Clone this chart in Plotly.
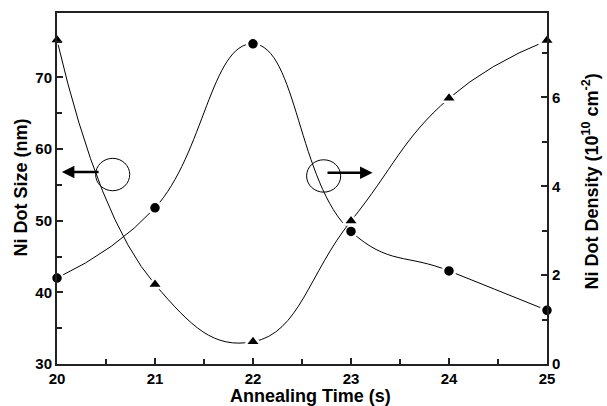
import plotly.graph_objects as go

time_s = [20, 21, 22, 23, 24, 25]
dot_size_nm = [42.0, 51.8, 74.7, 48.5, 43.0, 37.5]
dot_density = [7.29, 1.79, 0.50, 3.22, 5.98, 7.28]

x_ticks = [20, 21, 22, 23, 24, 25]
size_ticks = [30, 40, 50, 60, 70]
density_ticks = [0, 2, 4, 6]

FONT = "Liberation Sans, Arial, sans-serif"
AX = "#222"

fig = go.Figure()
fig.add_trace(go.Scatter(
    x=time_s, y=dot_size_nm, mode="lines+markers",
    line=dict(color="black", width=1, shape="spline", smoothing=1.3),
    marker=dict(symbol="circle", size=12, color="black", line=dict(color="white", width=2.5)),
    yaxis="y", showlegend=False, cliponaxis=False))
fig.add_trace(go.Scatter(
    x=time_s, y=dot_density, mode="lines+markers",
    line=dict(color="black", width=1, shape="spline", smoothing=1.3),
    marker=dict(symbol="triangle-up", size=14, color="black", line=dict(color="white", width=2.5)),
    yaxis="y2", showlegend=False, cliponaxis=False))

# circles and arrows indicating which axis each curve belongs to
fig.add_shape(type="circle", xref="x", yref="y",
              x0=20.568 - 0.174, x1=20.568 + 0.174, y0=56.45 - 2.26, y1=56.45 + 2.26,
              line=dict(color="black", width=1))
fig.add_shape(type="circle", xref="x", yref="y",
              x0=22.721 - 0.174, x1=22.721 + 0.174, y0=56.25 - 2.26, y1=56.25 + 2.26,
              line=dict(color="black", width=1))
fig.add_annotation(x=20.05, y=56.8, ax=20.44, ay=56.8, xref="x", yref="y", axref="x", ayref="y",
                   showarrow=True, arrowhead=2, arrowsize=1, arrowwidth=2.5, arrowcolor="black", text="")
fig.add_annotation(x=23.22, y=56.7, ax=22.745, ay=56.7, xref="x", yref="y", axref="x", ayref="y",
                   showarrow=True, arrowhead=2, arrowsize=1, arrowwidth=2.5, arrowcolor="black", text="")

tickfont = dict(family=FONT, size=15, color="black")
fig.update_layout(
    width=607, height=406,
    margin=dict(l=57, r=60, t=11, b=42),
    paper_bgcolor="white", plot_bgcolor="white",
    font=dict(family=FONT, color="black"),
    xaxis=dict(range=[20, 25], tickvals=x_ticks, ticktext=["<b>%d</b>" % v for v in x_ticks],
               ticks="inside", ticklen=6, tickwidth=1.5, tickcolor=AX,
               minor=dict(ticks="inside", dtick=0.5, ticklen=5, tickwidth=1.5, tickcolor=AX),
               showline=True, linecolor=AX, linewidth=2, mirror=True,
               showgrid=False, zeroline=False, tickfont=tickfont, ticklabelstandoff=0),
    yaxis=dict(range=[30, 79], tickvals=size_ticks, ticktext=["<b>%d</b>" % v for v in size_ticks],
               ticks="inside", ticklen=6, tickwidth=1.5, tickcolor=AX,
               minor=dict(ticks="inside", dtick=5, ticklen=5, tickwidth=1.5, tickcolor=AX),
               showline=True, linecolor=AX, linewidth=2,
               showgrid=False, zeroline=False, tickfont=tickfont),
    yaxis2=dict(range=[0, 7.9], overlaying="y", side="right",
                tickvals=density_ticks, ticktext=["<b>%d</b>" % v for v in density_ticks],
                ticks="inside", ticklen=6, tickwidth=1.5, tickcolor=AX,
                minor=dict(ticks="inside", dtick=1, ticklen=5, tickwidth=1.5, tickcolor=AX),
                showline=True, linecolor=AX, linewidth=2,
                showgrid=False, zeroline=False, tickfont=tickfont),
)

titlefont = dict(family=FONT, size=18, color="black")
fig.add_annotation(text="<b>Annealing Time (s)</b>", xref="paper", yref="paper", x=0.5, y=0,
                   xshift=8, yshift=-32, xanchor="center", yanchor="middle",
                   showarrow=False, font=titlefont)
fig.add_annotation(text="<b>Ni Dot Size (nm)</b>", xref="paper", yref="paper", x=0, y=0.5,
                   xshift=-37, yshift=1, textangle=-90, xanchor="center", yanchor="middle",
                   showarrow=False, font=titlefont)
fig.add_annotation(text="<b>Ni Dot Density (10<sup>10</sup> cm<sup>-2</sup>)</b>", xref="paper", yref="paper",
                   x=1, y=0.5, xshift=44, yshift=7, textangle=-90, xanchor="center", yanchor="middle",
                   showarrow=False, font=titlefont)

fig.write_html("out.html")
